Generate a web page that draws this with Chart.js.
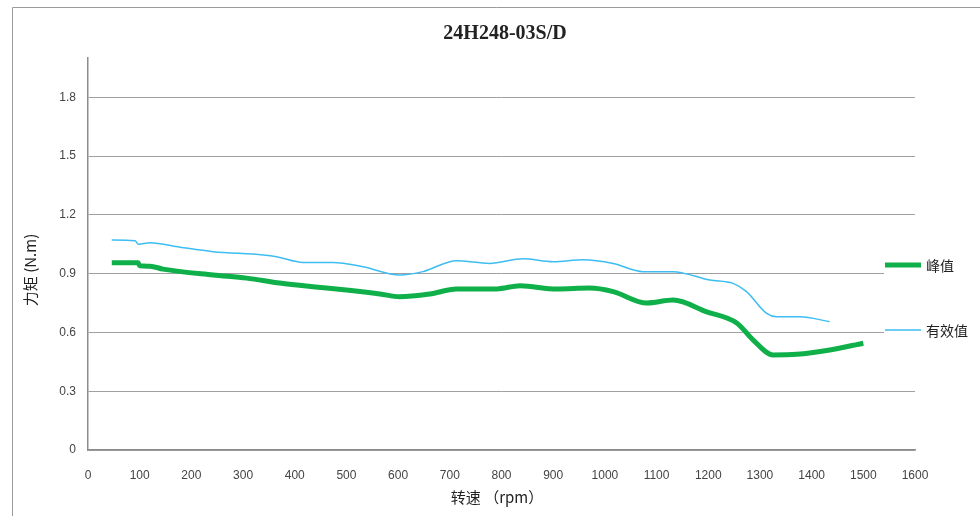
<!DOCTYPE html>
<html>
<head>
<meta charset="utf-8">
<script src="https://cdn.jsdelivr.net/npm/chart.js@4"></script>
<style>
	body { margin: 0; background: #fff; }
	#wrap { position: relative; width: 980px; height: 516px; }
</style>
</head>
<body>
<div id="wrap"><canvas id="torqueChart" width="980" height="516"></canvas></div>
<script>
// values
var titleText = '24H248-03S/D';
var xTitle = '转速 （rpm）';
var yTitle = '力矩 (N.m)';
var seriesNames = ['峰值', '有效值'];

var peakRpm = [46, 97, 100, 120, 145, 242, 307, 371, 435, 500, 565, 603, 661, 713, 791, 836, 907, 971, 1016, 1081, 1132, 1197, 1255, 1287, 1325, 1371, 1435, 1500];
var peakTorque = [0.955, 0.955, 0.94, 0.938, 0.923, 0.893, 0.877, 0.852, 0.833, 0.816, 0.796, 0.782, 0.796, 0.821, 0.822, 0.838, 0.821, 0.826, 0.808, 0.75, 0.765, 0.705, 0.648, 0.561, 0.485, 0.488, 0.51, 0.545];

var rmsRpm = [46, 91, 97, 120, 178, 242, 339, 365, 416, 474, 532, 603, 648, 713, 777, 842, 900, 958, 1016, 1074, 1132, 1203, 1248, 1274, 1313, 1332, 1377, 1435];
var rmsTorque = [1.071, 1.068, 1.05, 1.058, 1.035, 1.012, 0.995, 0.986, 0.957, 0.957, 0.935, 0.893, 0.91, 0.966, 0.952, 0.976, 0.961, 0.971, 0.952, 0.91, 0.91, 0.867, 0.85, 0.808, 0.697, 0.68, 0.68, 0.655];

var yTicks = [0, 0.3, 0.6, 0.9, 1.2, 1.5, 1.8];

function toPoints(xs, ys) {
	var pts = [];
	for (var i = 0; i < xs.length; i++) {
		pts.push({x: xs[i], y: ys[i]});
	}
	return pts;
}

var greenColor = '#0fb04a';
var blueColor = '#3dbdf2';

// frame, title, axis titles and the legend are drawn here
var decorations = {
	id: 'decorations',
	afterDraw: function (chart) {
		var ctx = chart.ctx;
		ctx.save();
		ctx.strokeStyle = '#9a9a9a';
		ctx.lineWidth = 1;
		ctx.beginPath();
		ctx.moveTo(12.5, 516);
		ctx.lineTo(12.5, 7.5);
		ctx.lineTo(980, 7.5);
		ctx.stroke();

		ctx.fillStyle = '#222';
		ctx.textAlign = 'center';
		ctx.textBaseline = 'middle';
		ctx.font = 'bold 20px "Liberation Serif", serif';
		ctx.fillText(titleText, 505, 34);

		ctx.font = '15px "Noto Sans CJK SC", sans-serif';
		ctx.fillText(xTitle, 497, 497);

		ctx.save();
		ctx.translate(30, 270);
		ctx.rotate(-Math.PI / 2);
		ctx.fillText(yTitle, 0, 0);
		ctx.restore();

		// legend box sits over the right end of the plot
		var ds = chart.data.datasets;
		var rows = [265, 330];
		ctx.fillStyle = '#fff';
		ctx.fillRect(884, 250, 96, 95);
		for (var i = 0; i < ds.length; i++) {
			ctx.strokeStyle = ds[i].borderColor;
			ctx.lineWidth = ds[i].borderWidth;
			ctx.beginPath();
			ctx.moveTo(885, rows[i]);
			ctx.lineTo(921, rows[i]);
			ctx.stroke();
			ctx.fillStyle = '#222';
			ctx.textAlign = 'left';
			ctx.font = '14px "Noto Sans CJK SC", sans-serif';
			ctx.fillText(ds[i].label, 926, rows[i] + 1);
		}
		ctx.restore();
	}
};

var ctx = document.getElementById('torqueChart').getContext('2d');
var torqueChart = new Chart(ctx, {
	type: 'line',
	data: {
		datasets: [
			{
				label: seriesNames[0],
				data: toPoints(peakRpm, peakTorque),
				borderColor: greenColor,
				borderWidth: 5,
				pointRadius: 0,
				tension: 0.4,
				cubicInterpolationMode: 'monotone'
			},
			{
				label: seriesNames[1],
				data: toPoints(rmsRpm, rmsTorque),
				borderColor: blueColor,
				borderWidth: 1.5,
				pointRadius: 0,
				tension: 0.4,
				cubicInterpolationMode: 'monotone'
			}
		]
	},
	options: {
		responsive: false,
		animation: false,
		layout: { padding: { top: 58, right: 65, left: 0, bottom: 0 } },
		plugins: {
			legend: { display: false },
			title: { display: false },
			tooltip: { enabled: false }
		},
		scales: {
			x: {
				type: 'linear',
				min: 0,
				max: 1600,
				afterFit: function (scale) { scale.height = 66; },
				ticks: {
					stepSize: 100,
					color: '#444',
					padding: 10,
					maxRotation: 0,
					autoSkip: false,
					font: { family: 'Liberation Sans', size: 12 },
					callback: function (v) { return String(v); }
				},
				grid: { display: false },
				border: { color: '#8c8c8c', width: 1.5 }
			},
			y: {
				min: 0,
				max: 2.0,
				afterFit: function (scale) { scale.width = 88; },
				afterBuildTicks: function (scale) {
					scale.ticks = yTicks.map(function (v) { return {value: v}; });
				},
				ticks: {
					color: '#444',
					padding: 12,
					font: { family: 'Liberation Sans', size: 12 },
					callback: function (v) { return v === 0 ? '0' : v.toFixed(1); }
				},
				grid: { color: '#a0a0a0', lineWidth: 1, drawTicks: false },
				border: { color: '#8c8c8c', width: 1.5 }
			}
		}
	},
	plugins: [decorations]
});
</script>
</body>
</html>
